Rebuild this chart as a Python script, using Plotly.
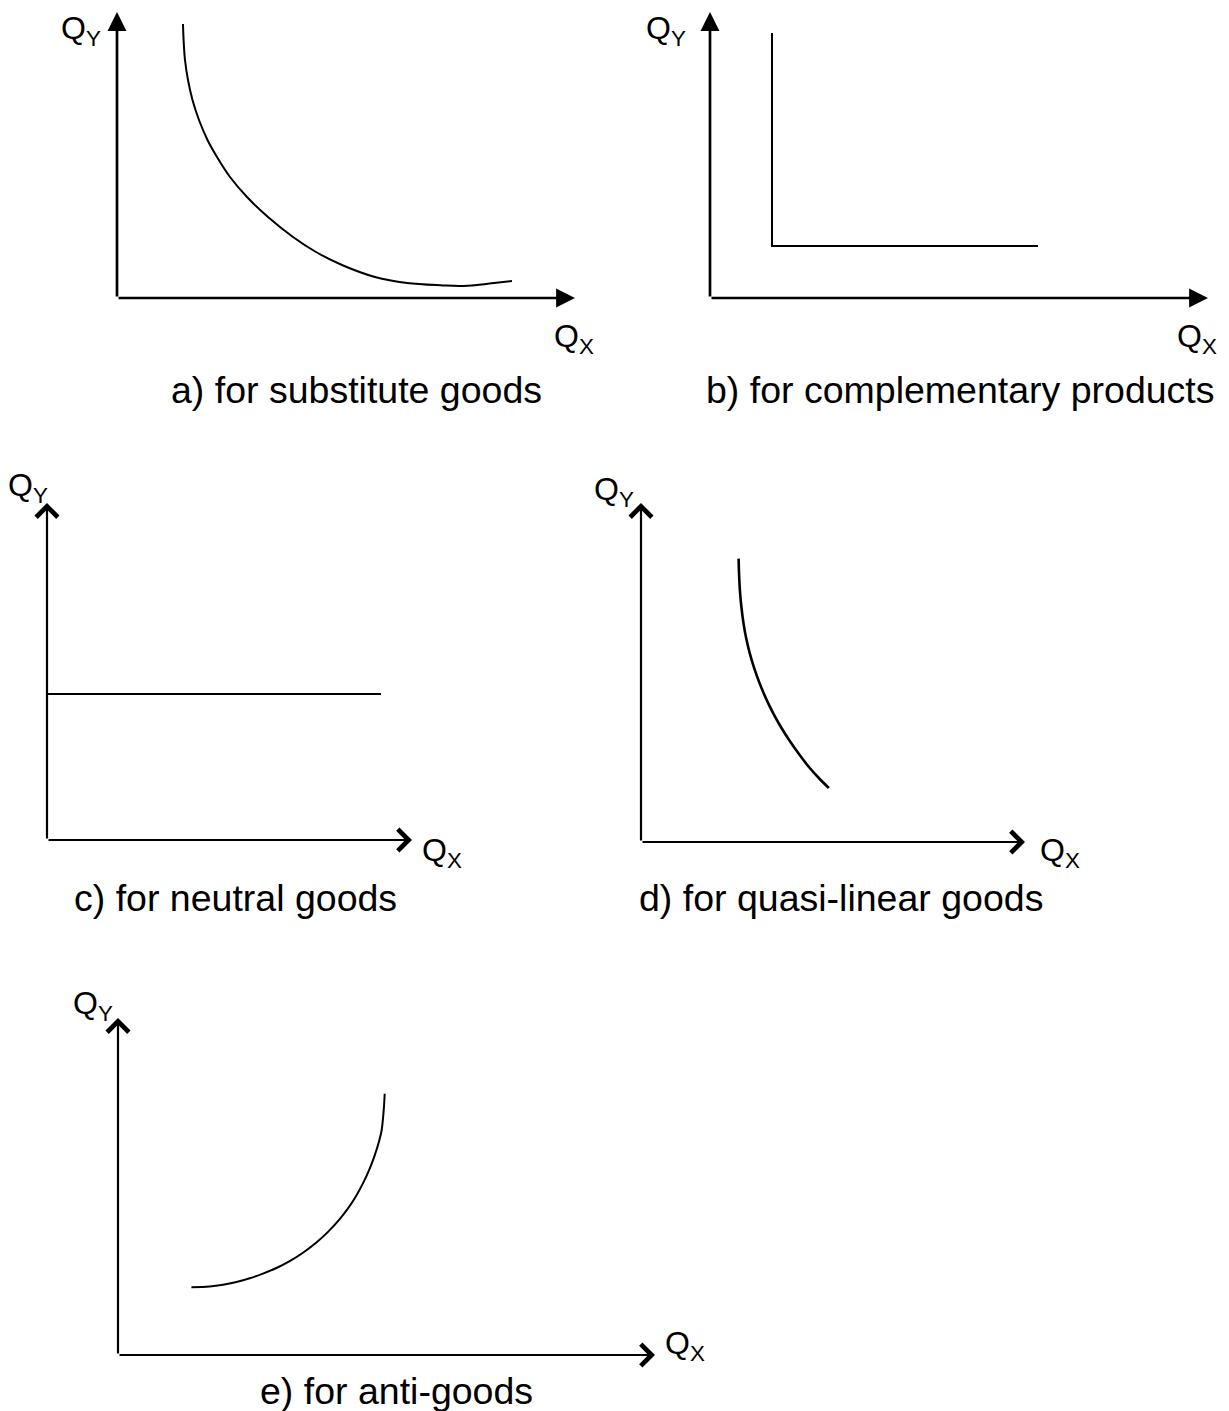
import plotly.graph_objects as go

W, H = 1229, 1411

# ---------------- data (curve values in each panel's own units) ----------------
a_x = [66, 66.6, 68, 71, 75.5, 82, 90.5, 100, 113, 130, 151, 176, 199, 225, 258, 290, 326, 343, 360, 377, 395]
a_y = [274, 258, 238, 218, 198, 178, 158, 141, 121, 101, 81, 61, 46, 33, 21, 15, 12.6, 12, 13, 15, 17]

b_x = [62, 62, 328]
b_y = [265, 52, 52]

c_x = [0, 334]
c_y = [146, 146]

d_x = [97.6, 98.05, 98.9, 100.4, 102.55, 105.25, 108.85, 113.35, 118.75, 125.05, 132.4, 139.9, 148.3,
       157.6, 167.9, 177.8, 187.8]
d_y = [283.4, 268.4, 251.7, 235, 218.4, 203.4, 188.4, 173.4, 158.4, 143.4, 128.4, 115, 101.7,
       88.4, 75, 64, 54]

e_x = [73.4, 91.7, 105, 118.4, 131.7, 145, 158.4, 171.7, 185, 198.4, 210, 221.7, 230, 238.4, 245.7,
       251.7, 256.7, 261, 263.7, 265, 266, 266.7]
e_y = [67.7, 68.4, 70.2, 73.0, 76.7, 81.4, 87.0, 93.9, 102.3, 112.5, 123.1, 135.9, 146.6, 159.6, 173.1,
       186.3, 199.6, 213.4, 225, 236.7, 248.7, 261.3]

captions = ["a) for substitute goods", "b) for complementary products",
            "c) for neutral goods", "d) for quasi-linear goods", "e) for anti-goods"]
y_label = "Q<sub>Y</sub>"
x_label = "Q<sub>X</sub>"

# ---------------- layout geometry (pixels) ----------------
panels = [
    dict(ox=117, oy=298, tx=575, ty=12, filled=True, lw=2.0,
         ylab=(59, 31), xlab=(552, 338), cap=(356, 390), data=(a_x, a_y)),
    dict(ox=710, oy=298, tx=1208, ty=12, filled=True, lw=2.0,
         ylab=(644, 31), xlab=(1175, 338), cap=(960, 390), data=(b_x, b_y)),
    dict(ox=47, oy=840, tx=412, ty=503, filled=False, lw=2.2,
         ylab=(6, 488), xlab=(420, 852), cap=(236, 898), data=(c_x, c_y)),
    dict(ox=641, oy=842, tx=1025, ty=503, filled=False, lw=2.6,
         ylab=(592, 491), xlab=(1038, 852), cap=(841, 898), data=(d_x, d_y)),
    dict(ox=118, oy=1355, tx=655, ty=1018, filled=False, lw=2.0,
         ylab=(71, 1005), xlab=(663, 1345), cap=(396, 1391), data=(e_x, e_y)),
]

FONT = "Liberation Sans, Arial, sans-serif"
fig = go.Figure()
annotations = []
layout = {}

for i, p in enumerate(panels, start=1):
    sfx = "" if i == 1 else str(i)
    xa, ya = "x" + sfx, "y" + sfx
    spanx = p["tx"] - p["ox"]
    spany = p["oy"] - p["ty"]
    layout["xaxis" + sfx] = dict(domain=[p["ox"] / W, p["tx"] / W], range=[0, spanx],
                                 visible=False, fixedrange=True, anchor=ya)
    layout["yaxis" + sfx] = dict(domain=[1 - p["oy"] / H, 1 - p["ty"] / H], range=[0, spany],
                                 visible=False, fixedrange=True, anchor=xa)
    xs, ys = p["data"]
    fig.add_trace(go.Scatter(x=xs, y=ys, mode="lines", xaxis=xa, yaxis=ya,
                             line=dict(color="black", width=p["lw"],
                                       shape="spline" if len(xs) > 3 else "linear",
                                       smoothing=1.0),
                             showlegend=False, hoverinfo="skip"))
    head = dict(arrowhead=2, arrowsize=1.4, arrowwidth=2.7) if p["filled"] else \
        dict(arrowhead=4, arrowsize=1.9, arrowwidth=2.2)
    annotations.append(dict(x=0, y=spany, ax=0, ay=0, xref=xa, yref=ya, axref=xa, ayref=ya,
                            showarrow=True, text="", arrowcolor="black", standoff=0, **head))
    annotations.append(dict(x=spanx, y=0, ax=0, ay=0, xref=xa, yref=ya, axref=xa, ayref=ya,
                            showarrow=True, text="", arrowcolor="black", standoff=0, **head))
    annotations.append(dict(x=p["ylab"][0] / W, y=1 - p["ylab"][1] / H, xref="paper", yref="paper",
                            text=y_label, showarrow=False, xanchor="left", yanchor="middle",
                            font=dict(family=FONT, size=32, color="black")))
    annotations.append(dict(x=p["xlab"][0] / W, y=1 - p["xlab"][1] / H, xref="paper", yref="paper",
                            text=x_label, showarrow=False, xanchor="left", yanchor="middle",
                            font=dict(family=FONT, size=32, color="black")))
    annotations.append(dict(x=p["cap"][0] / W, y=1 - p["cap"][1] / H, xref="paper", yref="paper",
                            text=captions[i - 1], showarrow=False, xanchor="center", yanchor="middle",
                            font=dict(family=FONT, size=37.5, color="black")))

fig.update_layout(width=W, height=H, margin=dict(l=0, r=0, t=0, b=0),
                  paper_bgcolor="white", plot_bgcolor="rgba(0,0,0,0)",
                  annotations=annotations, showlegend=False, **layout)

fig.write_html("out.html", config={"displayModeBar": False},
               post_script="document.body.style.margin='0';document.body.style.padding='0';")
